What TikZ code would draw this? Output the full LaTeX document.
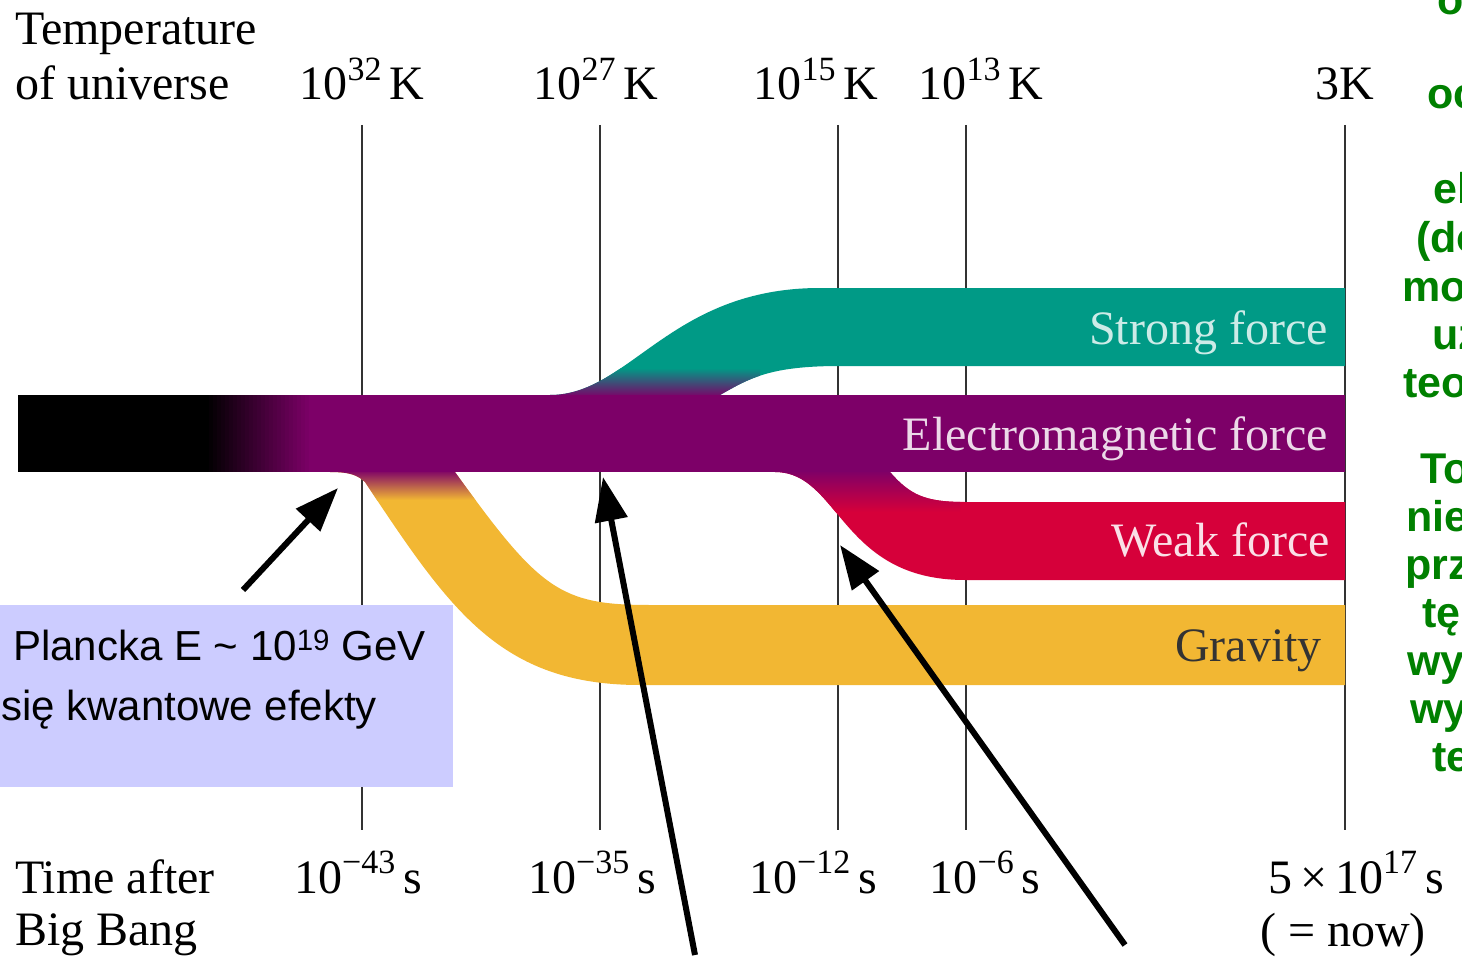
\documentclass[tikz,border=0pt]{standalone}
\usepackage{fontspec}
\setmainfont{Liberation Serif}
\newfontfamily\arialfont{Liberation Sans}
\usepackage{xcolor}
\usetikzlibrary{arrows.meta}
\definecolor{emcol}{HTML}{7D0068}
\definecolor{strongcol}{HTML}{009A86}
\definecolor{weakcol}{HTML}{D6003A}
\definecolor{gravcol}{HTML}{F2B733}
\definecolor{boxcol}{HTML}{CCCCFF}
\definecolor{notecol}{HTML}{008000}
% raised exponent for the axis labels
\newcommand{\expo}[1]{\raisebox{0.4em}{\fontsize{34}{36}\selectfont #1}}

\begin{document}
\begin{tikzpicture}[x=1pt, y=-1pt, >={Triangle[length=44pt,width=32pt]},
		tick/.style={draw=black!80, line width=2pt},
		axislabel/.style={font=\fontsize{48}{52}\selectfont, inner sep=0pt},
		bandlabel/.style={font=\fontsize{48}{52}\selectfont, anchor=base east, inner sep=0pt},
		boxtext/.style={font=\arialfont\fontsize{42}{46}\selectfont, anchor=base west, inner sep=0pt},
		note/.style={font=\arialfont\bfseries\fontsize{43}{46}\selectfont, text=notecol, anchor=base west, inner sep=0pt},
		pointer/.style={->, line width=6pt}]
	\useasboundingbox (0,0) rectangle (1462,960);
	% vertical time lines
	\foreach \x in {362,600,838,966,1345}
	\draw[tick] (\x,125) -- (\x,830);
	% strong force branch
	\begin{scope}
		\clip (550,395) .. controls (630,395) and (670,288) .. (820,288) -- (1345,288)
		-- (1345,366) -- (840,366) .. controls (770,366) and (750,378) .. (720,395) -- cycle;
		\fill[strongcol] (540,280) rectangle (1350,400);
		\shade[top color=strongcol, bottom color=emcol] (540,368) rectangle (760,397);
	\end{scope}
	% weak force branch
	\begin{scope}
		\clip (775,472) .. controls (840,472) and (840,580) .. (965,580) -- (1345,580)
		-- (1345,502) -- (965,502) .. controls (925,502) and (910,495) .. (890,472) -- cycle;
		\fill[weakcol] (770,465) rectangle (1350,585);
		\shade[top color=emcol, bottom color=weakcol] (770,470) rectangle (960,512);
	\end{scope}
	% gravity branch
	\begin{scope}
		\clip (330,472) .. controls (352,472) and (358,476) .. (365,482)
		.. controls (450,610) and (500,685) .. (640,685) -- (1345,685) -- (1345,605)
		-- (650,605) .. controls (560,605) and (540,590) .. (455,472) -- cycle;
		\fill[gravcol] (320,465) rectangle (1350,690);
		\shade[top color=emcol, bottom color=gravcol] (320,470) rectangle (500,500);
	\end{scope}
	% unified band: black fading into purple
	\fill[emcol] (18,395) rectangle (1345,472);
	\fill[black] (18,395) rectangle (206,472);
	\foreach \i in {0,...,26}{
		\pgfmathsetmacro{\p}{\i*100/26}
		\fill[emcol!\p!black] ({205+\i*4},395) rectangle ({210+\i*4},472);
	}
	% band labels
	\node[bandlabel, text=strongcol!20] (strong) at (1328,344) {Strong force};
	\node[bandlabel, text=emcol!15] (em) at (1328,450) {Electromagnetic force};
	\node[bandlabel, text=weakcol!12] (weak) at (1330,556) {Weak force};
	\node[bandlabel, text=black!80] (grav) at (1322,661) {Gravity};
	% temperature axis
	\node[axislabel, anchor=base west] (templ) at (15,45) {Temperature};
	\node[axislabel, anchor=base west] (temp2) at (15,100) {of universe};
	\node[axislabel, anchor=base] (t32) at (362,100) {10\expo{32}\,K};
	\node[axislabel, anchor=base] (t27) at (596,100) {10\expo{27}\,K};
	\node[axislabel, anchor=base] (t15) at (816,100) {10\expo{15}\,K};
	\node[axislabel, anchor=base] (t13) at (981,100) {10\expo{13}\,K};
	\node[axislabel, anchor=base] (t3) at (1345,100) {3K};
	% time axis
	\node[axislabel, anchor=base west] (timel) at (15,893) {Time after};
	\node[axislabel, anchor=base west] (time2) at (15,945) {Big Bang};
	\node[axislabel, anchor=base] (s43) at (358,893) {10\expo{−43}\,s};
	\node[axislabel, anchor=base] (s35) at (592,893) {10\expo{−35}\,s};
	\node[axislabel, anchor=base] (s12) at (813,893) {10\expo{−12}\,s};
	\node[axislabel, anchor=base] (s6) at (985,893) {10\expo{−6}\,s};
	\node[axislabel, anchor=base] (snow) at (1356,893) {5\,×\,10\expo{17}\,s};
	\node[axislabel, anchor=base] (now) at (1343,946) {( = now)};
	% Planck box
	\fill[boxcol] (0,605) rectangle (453,787);
	\node[boxtext] (planck) at (13,660) {Plancka E \textasciitilde{} 10\textsuperscript{19} GeV};
	\node[boxtext] (quant) at (1,720) {się kwantowe efekty};
	% pointers
	\coordinate (p1s) at (243,590);
	\coordinate (p1e) at (338,488);
	\coordinate (p2s) at (695,955);
	\coordinate (p2e) at (603,477);
	\coordinate (p3s) at (1125,945);
	\coordinate (p3e) at (840,545);
	\draw[pointer] (p1s) -- (p1e);
	\draw[pointer] (p2s) -- (p2e);
	\draw[pointer] (p3s) -- (p3e);
	% green notes, cut at the right edge
	\begin{scope}
		\clip (0,0) rectangle (1462,960);
		\foreach \x/\y/\t in {1437/15/o, 1427/109/oc, 1433/204/el, 1416/252/(do,
			1402/301/mo, 1432/349/uz, 1403/397/teo, 1420/483/To, 1406/531/nie,
			1405/579/prz, 1422/627/tę, 1407/675/wy, 1410/723/wy, 1432/771/te}
		\node[note] at (\x,\y) {\t};
	\end{scope}
\end{tikzpicture}
\end{document}
